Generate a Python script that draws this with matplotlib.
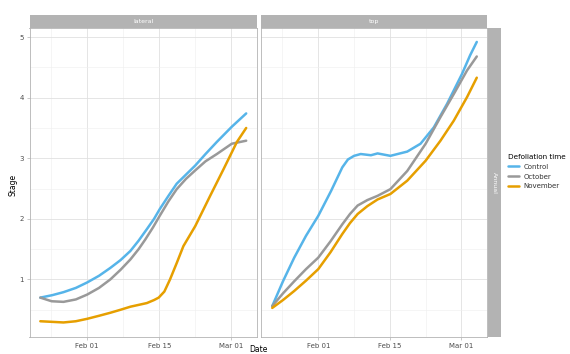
import matplotlib
matplotlib.use('Agg')
import matplotlib.pyplot as plt
import matplotlib.dates as mdates
import numpy as np
import pandas as pd

# smoothed phenology stage over time, per defoliation treatment
# days are counted from Feb 01
start = pd.Timestamp('2021-02-01')

treatments = ['Control', 'October', 'November']
colors = {'Control': '#56B4E9', 'October': '#999999', 'November': '#E69F00'}
panels = ['lateral', 'top']
row_label = 'Annual'

lateral_days = {
	'Control':  [-9.1, -6.8, -4.6, -2.2, 0.0, 2.3, 4.5, 6.5, 8.4, 10.0, 11.6, 13.0, 14.1, 15.8, 17.4, 19.2, 21.0, 23.0, 25.2, 28.1, 30.9],
	'October':  [-9.1, -6.9, -4.6, -2.2, 0.0, 2.3, 4.5, 6.5, 8.4, 10.0, 11.3, 12.8, 14.1, 15.8, 17.4, 19.2, 21.0, 23.0, 25.2, 28.1, 30.9],
	'November': [-9.1, -6.8, -4.6, -2.2, 0.0, 2.3, 4.5, 6.5, 8.4, 10.0, 11.6, 13.0, 13.9, 15.0, 16.1, 17.4, 18.7, 21.0, 23.9, 26.5, 29.1, 30.9],
}
lateral_stage = {
	'Control':  [0.70, 0.74, 0.79, 0.86, 0.95, 1.06, 1.19, 1.32, 1.47, 1.64, 1.83, 2.00, 2.16, 2.38, 2.58, 2.73, 2.88, 3.07, 3.27, 3.52, 3.74],
	'October':  [0.70, 0.64, 0.63, 0.67, 0.75, 0.86, 1.00, 1.16, 1.33, 1.50, 1.66, 1.86, 2.05, 2.29, 2.49, 2.66, 2.80, 2.95, 3.07, 3.24, 3.29],
	'November': [0.31, 0.30, 0.29, 0.31, 0.35, 0.40, 0.45, 0.50, 0.55, 0.58, 0.61, 0.66, 0.70, 0.80, 1.00, 1.27, 1.55, 1.88, 2.38, 2.82, 3.27, 3.50],
}

top_days = {
	'Control':  [-9.0, -6.9, -4.7, -2.4, 0.0, 2.5, 4.7, 5.8, 7.0, 8.3, 10.3, 11.6, 14.1, 17.4, 20.0, 22.6, 25.2, 28.1, 29.7, 31.0],
	'October':  [-9.0, -6.9, -4.7, -2.4, 0.0, 2.4, 4.7, 6.2, 7.7, 9.6, 11.6, 14.1, 17.4, 21.0, 23.9, 26.5, 29.1, 31.0],
	'November': [-9.0, -6.9, -4.7, -2.4, 0.0, 2.4, 4.7, 6.2, 7.7, 9.6, 11.6, 14.1, 17.4, 21.0, 23.9, 26.5, 29.1, 31.0],
}
top_stage = {
	'Control':  [0.56, 0.97, 1.36, 1.72, 2.05, 2.46, 2.85, 2.98, 3.04, 3.07, 3.05, 3.08, 3.04, 3.11, 3.24, 3.51, 3.90, 4.39, 4.70, 4.92],
	'October':  [0.56, 0.77, 0.97, 1.17, 1.36, 1.63, 1.91, 2.08, 2.22, 2.31, 2.38, 2.49, 2.79, 3.24, 3.68, 4.06, 4.45, 4.68],
	'November': [0.53, 0.66, 0.81, 0.98, 1.17, 1.45, 1.75, 1.93, 2.08, 2.21, 2.32, 2.41, 2.63, 2.96, 3.29, 3.62, 4.01, 4.33],
}

xticks = ['2021-02-01', '2021-02-15', '2021-03-01']
xminor = ['2021-01-25', '2021-02-08', '2021-02-22']

W, H = 570, 354
fig = plt.figure(figsize=(W/100, H/100), dpi=100)
fig.patch.set_facecolor('white')

def fx(px):
	return px / W

def fy(py):
	return 1 - py / H

panel_x = [(29.5, 257), (261, 487)]
top_px, bot_px = 28, 337

def to_dates(days):
	return start + pd.to_timedelta(np.array(days), unit='D')

lines = {}
for i, (name, days, stage) in enumerate(zip(panels, [lateral_days, top_days], [lateral_stage, top_stage])):
	x0, x1 = panel_x[i]
	ax = fig.add_axes([fx(x0), fy(bot_px), fx(x1 - x0), (bot_px - top_px) / H])
	for t in treatments:
		ln, = ax.plot(to_dates(days[t]), stage[t], color=colors[t], lw=1.8,
			solid_capstyle='round', solid_joinstyle='round', label=t, zorder=3)
		lines[t] = ln

	ax.set_xlim(start + pd.Timedelta(days=-11.2), start + pd.Timedelta(days=33.0))
	ax.set_ylim(0.05, 5.15)
	ax.set_xticks(pd.to_datetime(xticks))
	ax.set_xticks(pd.to_datetime(xminor), minor=True)
	ax.xaxis.set_major_formatter(mdates.DateFormatter('%b %d'))
	ax.set_yticks([1, 2, 3, 4, 5])
	ax.set_yticks([0.5, 1.5, 2.5, 3.5, 4.5], minor=True)
	ax.grid(which='major', color='#e0e0e0', lw=0.6)
	ax.grid(which='minor', color='#eeeeee', lw=0.4)
	ax.set_axisbelow(True)
	for s in ax.spines.values():
		s.set_color('#b3b3b3')
		s.set_linewidth(0.6)
	ax.tick_params(which='major', length=2, width=0.5, color='#b3b3b3', labelsize=5, labelcolor='#4d4d4d', pad=2)
	ax.tick_params(which='minor', length=0)
	if i > 0:
		ax.tick_params(axis='y', left=False, labelleft=False)

	# facet strip on top
	sax = fig.add_axes([fx(x0), fy(top_px), fx(x1 - x0), 13 / H])
	sax.set_facecolor('#b3b3b3')
	sax.set_xticks([])
	sax.set_yticks([])
	for s in sax.spines.values():
		s.set_visible(False)
	sax.text(0.5, 0.5, name, color='white', fontsize=4.5, ha='center', va='center', transform=sax.transAxes)

# row strip on the right
rax = fig.add_axes([fx(488), fy(bot_px), fx(13), (bot_px - top_px) / H])
rax.set_facecolor('#b3b3b3')
rax.set_xticks([])
rax.set_yticks([])
for s in rax.spines.values():
	s.set_visible(False)
rax.text(0.5, 0.5, row_label, color='white', fontsize=4.5, rotation=-90, ha='center', va='center', transform=rax.transAxes)

fig.text(fx(13), fy(185), 'Stage', rotation=90, fontsize=5.5, color='black', ha='center', va='center')
fig.text(fx(258), fy(350), 'Date', fontsize=5.5, color='black', ha='center', va='center')

leg = fig.legend([lines[t] for t in treatments], treatments, title='Defoliation time',
	loc='upper left', bbox_to_anchor=(fx(508), fy(154)), frameon=False,
	fontsize=5, title_fontsize=5.2, handlelength=1.6, handletextpad=0.6,
	labelspacing=0.55, borderaxespad=0, borderpad=0)
leg._legend_box.align = 'left'
for t in leg.get_texts():
	t.set_color('#333333')

fig.savefig('out.png', dpi=100)
